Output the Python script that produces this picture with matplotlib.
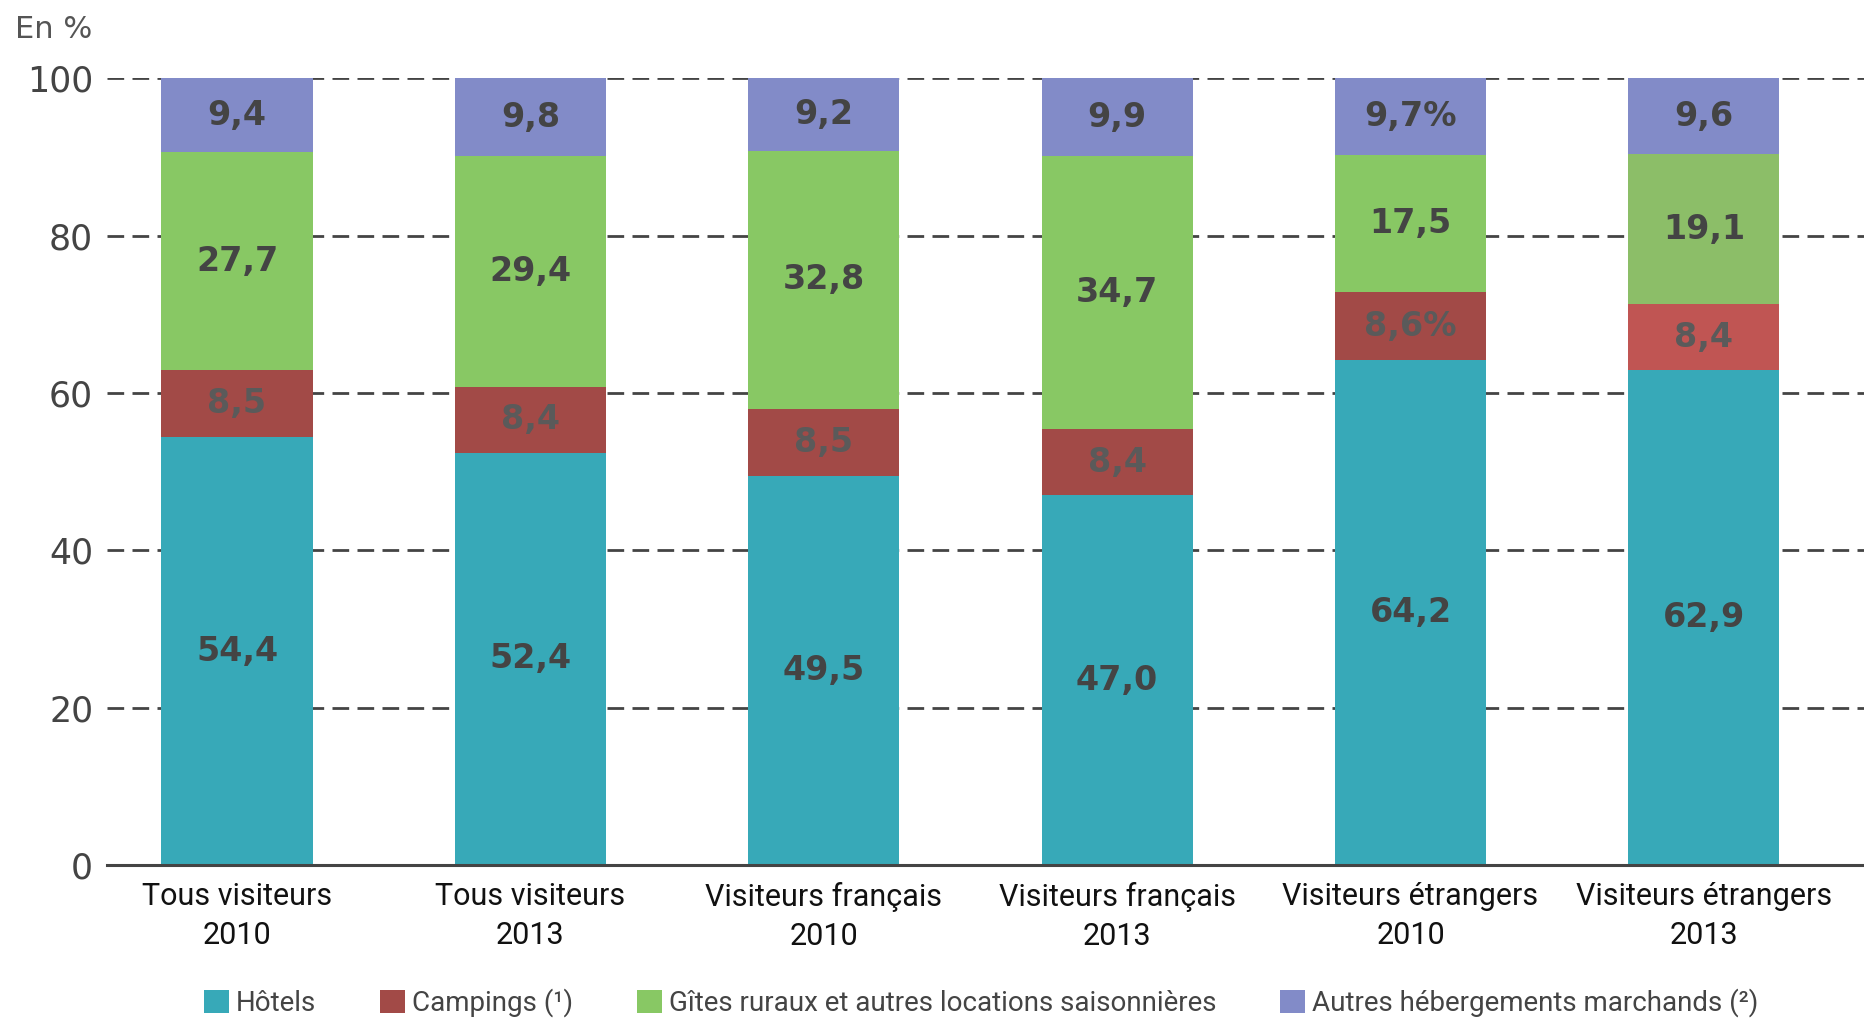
import numpy as np
import matplotlib.pyplot as plt

categories = ['Tous visiteurs\n2010', 'Tous visiteurs\n2013', 'Visiteurs français\n2010',
              'Visiteurs français\n2013', 'Visiteurs étrangers\n2010', 'Visiteurs étrangers\n2013']
series_names = ['Hôtels', 'Campings (¹)', 'Gîtes ruraux et autres locations saisonnières',
                'Autres hébergements marchands (²)']
hotels = [54.4, 52.4, 49.5, 47.0, 64.2, 62.9]
campings = [8.5, 8.4, 8.5, 8.4, 8.6, 8.4]
gites = [27.7, 29.4, 32.8, 34.7, 17.5, 19.1]
autres = [9.4, 9.8, 9.2, 9.9, 9.7, 9.6]
# the labels as printed in the source (two carry a stray % sign)
hotels_lbl = ['54,4', '52,4', '49,5', '47,0', '64,2', '62,9']
campings_lbl = ['8,5', '8,4', '8,5', '8,4', '8,6%', '8,4']
gites_lbl = ['27,7', '29,4', '32,8', '34,7', '17,5', '19,1']
autres_lbl = ['9,4', '9,8', '9,2', '9,9', '9,7%', '9,6']

colors = ['#37a9b8', '#a24a47', '#88c864', '#828bc8']
# last column is printed in slightly different shades
last_colors = ['#37a9b8', '#c05553', '#8cbe68', '#828bc8']

fig = plt.figure(figsize=(18.65, 10.18), dpi=100)
ax = fig.add_axes([0.0574, 0.1503, 0.9426, 0.7726])

x = np.arange(len(categories))
width = 0.515
series = [hotels, campings, gites, autres]
labels = [hotels_lbl, campings_lbl, gites_lbl, autres_lbl]
bottom = np.zeros(len(categories))
for i, (vals, lbls) in enumerate(zip(series, labels)):
    vals = np.array(vals)
    cols = [colors[i]] * (len(x) - 1) + [last_colors[i]]
    ax.bar(x, vals, width, bottom=bottom, color=cols, zorder=3, label=series_names[i])
    txt_col = '#5a5a5a' if i == 1 else '#444444'
    for xi, b, v, l in zip(x, bottom, vals, lbls):
        ax.text(xi, b + v / 2, l, ha='center', va='center', fontsize=24,
                fontweight='bold', color=txt_col, zorder=4)
    bottom += vals

ax.set_xlim(-0.443, 5.549)
ax.set_ylim(0, 100)
ax.set_yticks(range(0, 101, 20))
ax.yaxis.grid(True, linestyle=(0, (6, 3)), color='#444444', linewidth=2, zorder=0)
ax.tick_params(axis='y', length=0, labelsize=25, labelcolor='#444444', pad=10)
ax.tick_params(axis='x', length=0, pad=12)
ax.set_xticks(x)
ax.set_xticklabels(categories, fontsize=22, family='Roboto', color='#111111', linespacing=1.45)
for s in ['top', 'right', 'left']:
    ax.spines[s].set_visible(False)
ax.spines['bottom'].set_color('#444444')
ax.spines['bottom'].set_linewidth(2.2)
ax.spines['bottom'].set_zorder(5)

fig.text(0.008, 0.971, 'En %', fontsize=22, color='#555555', va='center')

handles, names = ax.get_legend_handles_labels()
fig.legend(handles, names, loc='center', bbox_to_anchor=(0.526, 0.015), ncol=4, frameon=False,
           prop={'family': 'Roboto', 'size': 20}, handlelength=0.9, handleheight=0.9,
           handletextpad=0.25, columnspacing=2.3, labelcolor='#444444', borderpad=0)

fig.savefig('out.png', dpi=100)
